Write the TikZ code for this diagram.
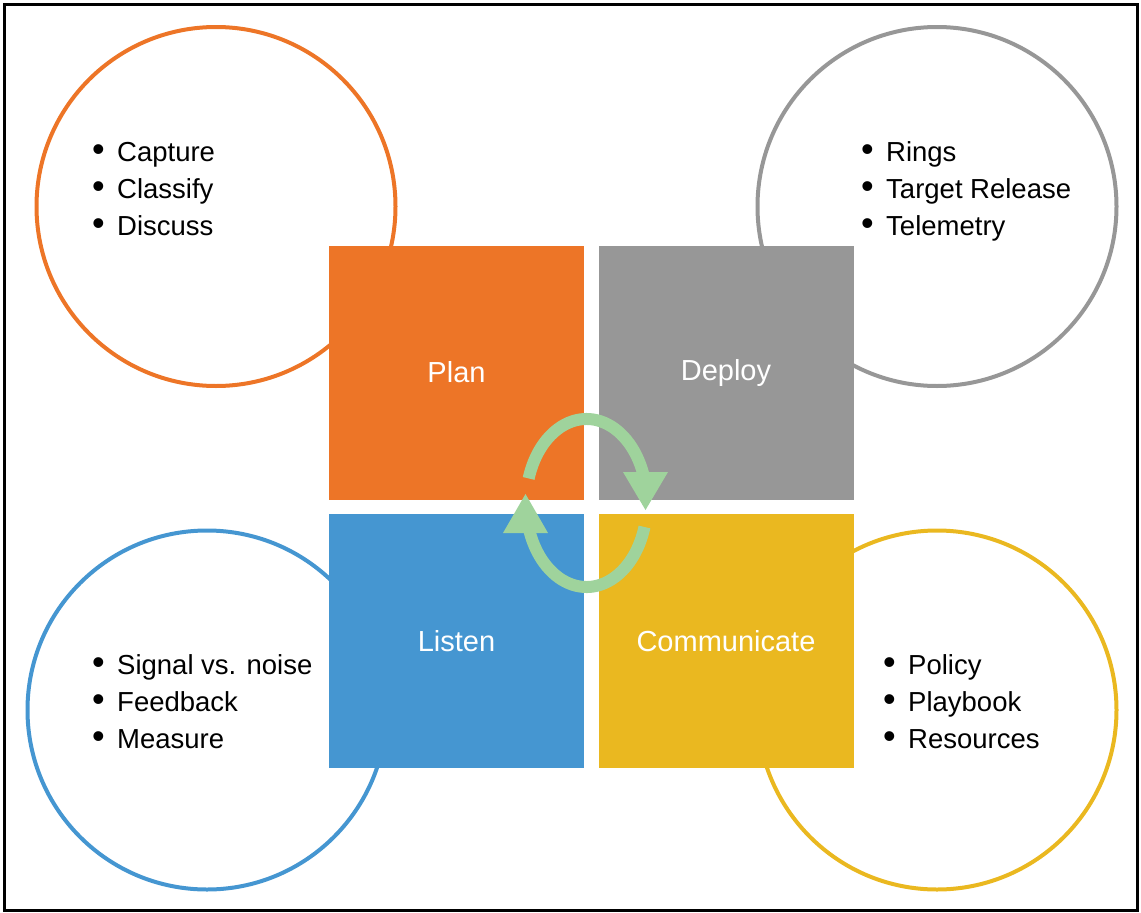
\documentclass[tikz,border=0pt]{standalone}
\usepackage{fontspec}
\setmainfont{Liberation Sans}
\definecolor{cOr}{HTML}{ED7527}
\definecolor{cGy}{HTML}{979797}
\definecolor{cBl}{HTML}{4596D1}
\definecolor{cYe}{HTML}{EAB820}
\definecolor{cGr}{HTML}{9FD39C}
\newcommand\bul{\llap{{\fontsize{36}{36}\selectfont •}\hspace{12.5pt}}}
\begin{document}
\begin{tikzpicture}[x=1pt,y=-1pt,
  ring/.style={circle, draw, line width=4pt, minimum size=359pt, inner sep=0pt},
  tile/.style={rectangle, minimum width=255pt, minimum height=254pt, inner sep=0pt, text=white, font=\fontsize{29}{34}\selectfont},
  item/.style={anchor=base west, inner sep=0pt, font=\fontsize{27.5}{33}\selectfont},
  cyc/.style={draw=cGr, line width=12pt},
  head/.style={fill=cGr, draw=none}]
\useasboundingbox (0,0) rectangle (1141,913);
\node[rectangle, draw, line width=3pt, minimum width=1133pt, minimum height=906pt, inner sep=0pt] (frame) at (570.5,457) {};
% circles
\node[ring, draw=cOr] (cplan) at (216,206.5) {};
\node[ring, draw=cGy] (cdep) at (937,206.5) {};
\node[ring, draw=cBl] (clis) at (207,710) {};
\node[ring, draw=cYe] (ccom) at (937,710) {};
% bullet texts
\node[item] (p1) at (117,161) {\bul Capture};
\node[item] (p2) at (117,198) {\bul Classify};
\node[item] (p3) at (117,235) {\bul Discuss};
\node[item] (d1) at (886,161) {\bul Rings};
\node[item] (d2) at (886,198) {\bul Target Release};
\node[item] (d3) at (886,235) {\bul Telemetry};
\node[item] (l1) at (117,674) {\bul Signal vs. noise};
\node[item] (l2) at (117,711) {\bul Feedback};
\node[item] (l3) at (117,748) {\bul Measure};
\node[item] (m1) at (908,674) {\bul Policy};
\node[item] (m2) at (908,711) {\bul Playbook};
\node[item] (m3) at (908,748) {\bul Resources};
% tiles
\node[tile, fill=cOr] (plan) at (456.5,372.5) {Plan};
\node[tile, fill=cGy] (deploy) at (726,372.5) {Deploy};
\node[tile, fill=cBl] (listen) at (456.5,641) {Listen};
\node[tile, fill=cYe] (comm) at (726,641) {Communicate};
% cycle arrows
\coordinate (cyc) at (586.5,503);
\draw[cyc] (cyc) ++(197:60.5 and 84) arc[start angle=197, end angle=343, x radius=60.5, y radius=84];
\fill[head] (623,472) -- (668,472) -- (645.5,510) -- cycle;
\draw[cyc] (cyc) ++(16.6:60.5 and 84) arc[start angle=16.6, end angle=163, x radius=60.5, y radius=84];
\fill[head] (503,533) -- (548,533) -- (525.5,494) -- cycle;
\end{tikzpicture}
\end{document}
